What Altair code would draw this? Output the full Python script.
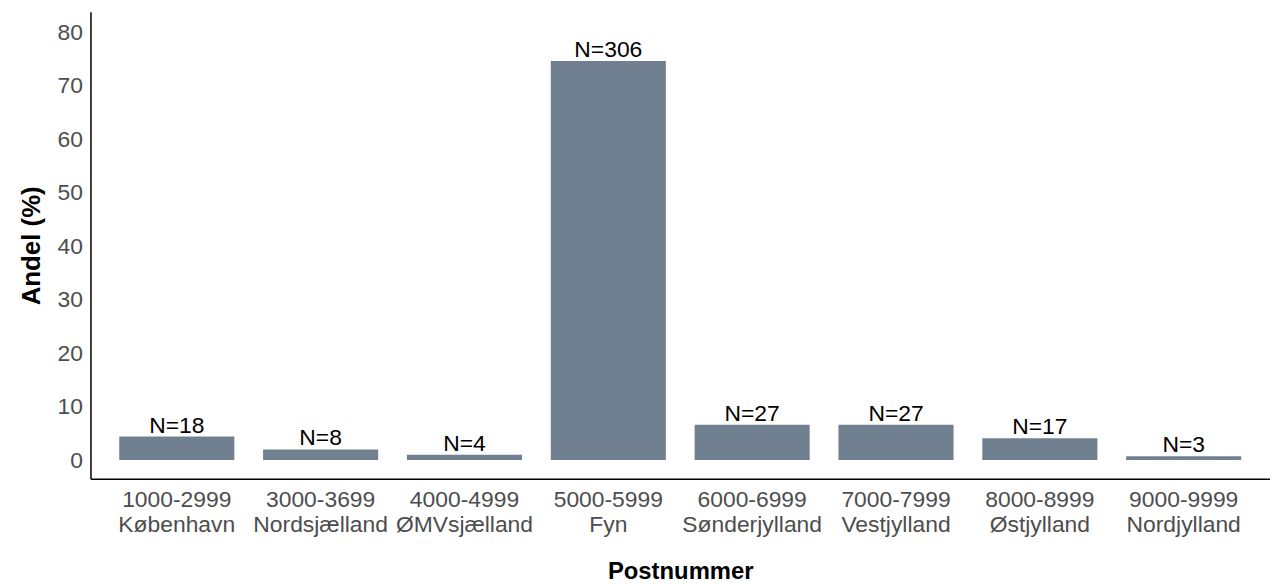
import altair as alt
import pandas as pd

postnr = ["1000-2999", "3000-3699", "4000-4999", "5000-5999",
          "6000-6999", "7000-7999", "8000-8999", "9000-9999"]
region = ["København", "Nordsjælland", "ØMVsjælland", "Fyn",
          "Sønderjylland", "Vestjylland", "Østjylland", "Nordjylland"]
andel = [4.4, 2.0, 1.0, 74.6, 6.6, 6.6, 4.1, 0.7]
n_vals = [18, 8, 4, 306, 27, 27, 17, 3]

df = pd.DataFrame({
    "kat": [f"{p}|{r}" for p, r in zip(postnr, region)],
    "andel": andel,
    "lab": [f"N={n}" for n in n_vals],
})
order = list(df["kat"])

FONT = "Liberation Sans"

x = alt.X("kat:N", sort=order,
          scale=alt.Scale(paddingInner=0.2, paddingOuter=0.2),
          axis=alt.Axis(title="Postnummer", labelExpr="split(datum.label, '|')",
                        labelAngle=0, ticks=False, labelPadding=10,
                        labelFontSize=23, labelColor="#4d4d4d", labelLineHeight=25,
                        labelBaseline="top",
                        titleFontSize=24, titleFontWeight="bold", titleColor="black",
                        titlePadding=23, domainColor="black", domainWidth=1.5,
                        labelFont=FONT, titleFont=FONT))
y = alt.Y("andel:Q",
          scale=alt.Scale(domain=[-3.5, 83.8], nice=False, zero=False),
          axis=alt.Axis(title="Andel (%)", values=[0, 10, 20, 30, 40, 50, 60, 70, 80],
                        ticks=False, grid=False, labelPadding=8,
                        labelFontSize=23, labelColor="#4d4d4d",
                        titleFontSize=26, titleFontWeight="bold", titleColor="black",
                        titlePadding=13, domainColor="black", domainWidth=1.5,
                        labelFont=FONT, titleFont=FONT))

base = alt.Chart(df)
bars = base.mark_bar(color="#708090").encode(x=x, y=y, y2=alt.datum(0))
text = base.mark_text(baseline="alphabetic", dy=-4, fontSize=23, font=FONT,
                      color="black").encode(x=x, y=y, text="lab:N")

chart = (bars + text).properties(
    width=1187, height=470,
    padding={"left": 83, "top": 2, "right": 0, "bottom": 105},
    autosize=alt.AutoSizeParams(type="none"),
).configure(background="white").configure_view(stroke=None)

chart.save("out.html", embed_options={"renderer": "svg", "actions": False})
